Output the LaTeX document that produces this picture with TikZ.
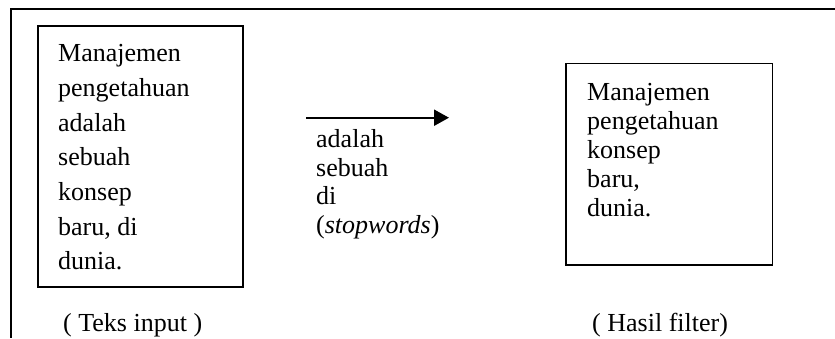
\documentclass[tikz,border=0pt]{standalone}
\usepackage{fontspec}
\setmainfont{Liberation Serif}
\usetikzlibrary{arrows.meta}
\tikzset{
  boxframe/.style={draw=black, line width=1.6pt, inner sep=0pt, anchor=north west, fill=none},
  txt/.style={anchor=base west, inner sep=0pt},
  flowarrow/.style={line width=2.3pt, -{Triangle[length=15pt,width=16pt]}},
}
\begin{document}
\begin{tikzpicture}[x=1pt,y=-1pt]
\useasboundingbox (0,0) rectangle (835,338);
% outer frame (top and left sides)
\coordinate (fr1) at (835,9);
\coordinate (fr2) at (11,9);
\coordinate (fr3) at (11,338);
\draw[line width=2pt] (fr1) -- (fr2) -- (fr3);

% left box
\node[boxframe, minimum width=205pt, minimum height=261pt] (lbox) at (37,25) {};
\node[txt] (ltext) at (58,61.7) {\fontsize{26}{34.7}\selectfont\begin{tabular}[t]{@{}l@{}}
Manajemen\\ pengetahuan\\ adalah\\ sebuah\\ konsep\\ baru, di\\ dunia.\end{tabular}};

% arrow with stopwords
\coordinate (as) at (306,117.7);
\coordinate (ae) at (449,117.7);
\draw[flowarrow] (as) -- (ae);
\node[txt] (mtext) at (316,147.7) {\fontsize{26}{28.5}\selectfont\begin{tabular}[t]{@{}l@{}}
adalah\\ sebuah\\ di\\ (\textit{stopwords})\end{tabular}};

% right box
\node[boxframe, minimum width=206.5pt, minimum height=201.5pt] (rbox) at (565,62.7) {};
\node[txt] (rtext) at (587,100) {\fontsize{26}{29}\selectfont\begin{tabular}[t]{@{}l@{}}
Manajemen\\ pengetahuan\\ konsep\\ baru,\\ dunia.\end{tabular}};

% captions
\node[txt] (lcap) at (63,331) {\fontsize{26}{29}\selectfont ( Teks input )};
\node[txt] (rcap) at (592,331) {\fontsize{26}{29}\selectfont ( Hasil filter)};
\end{tikzpicture}
\end{document}
